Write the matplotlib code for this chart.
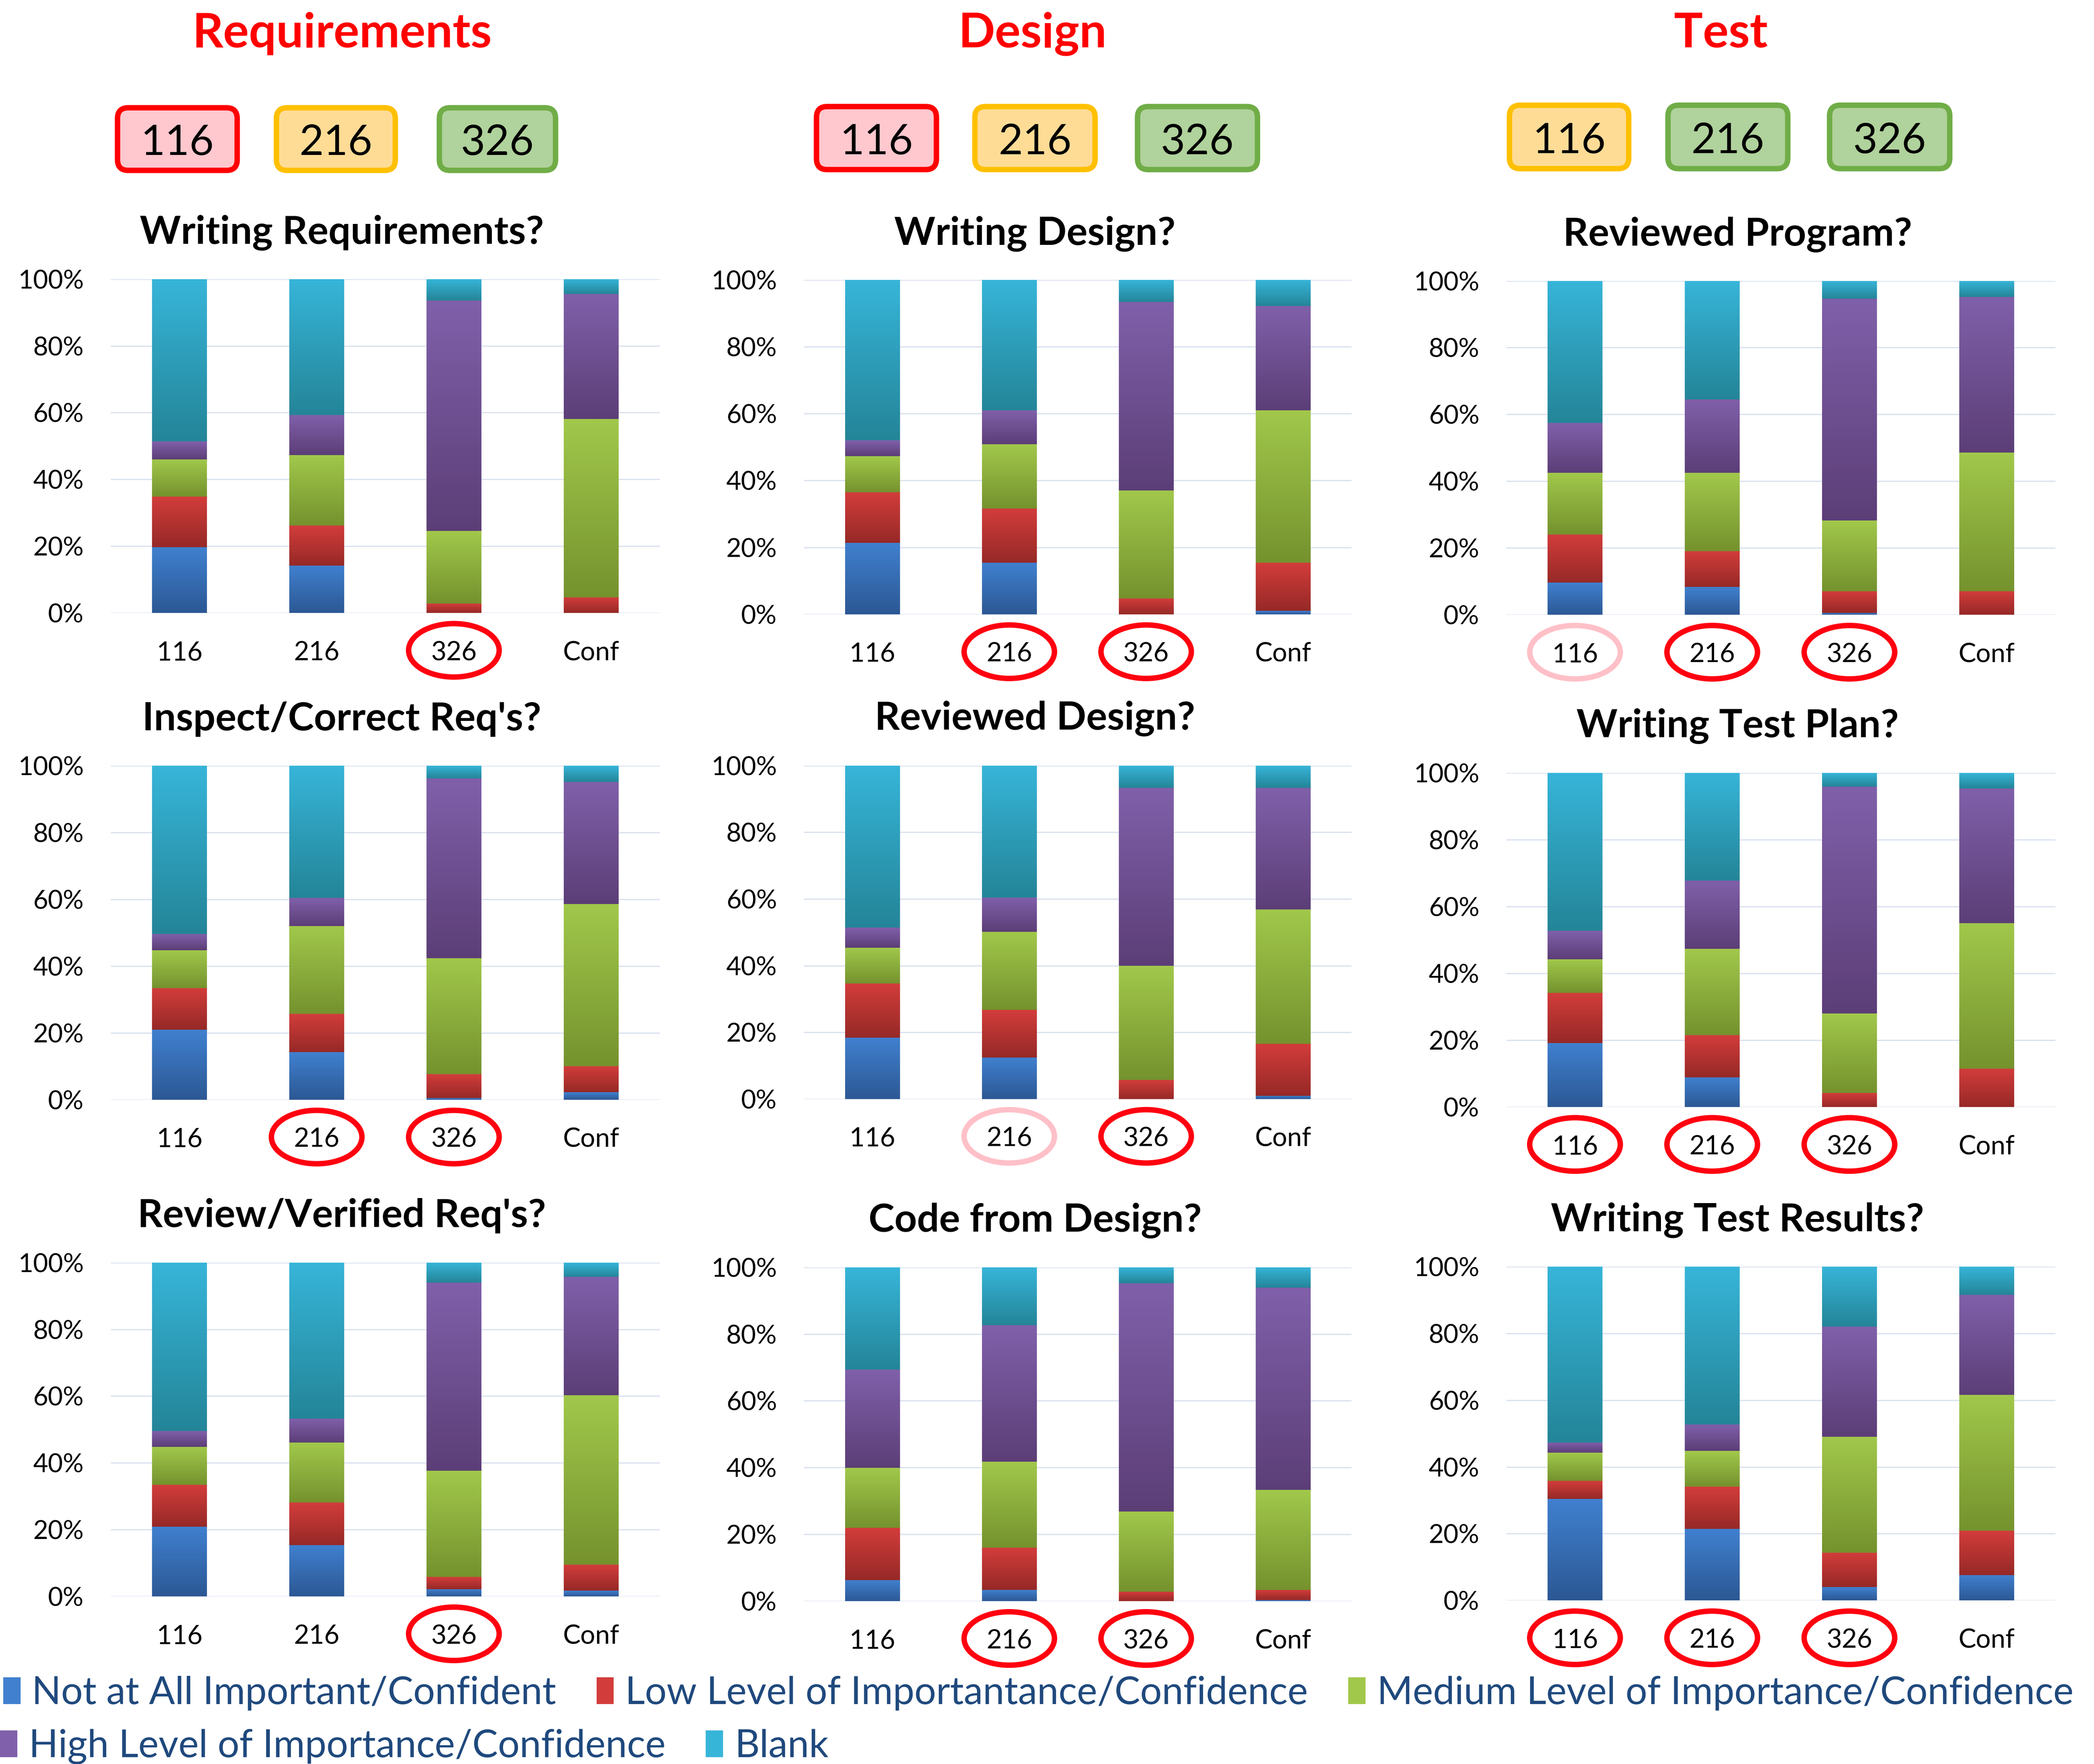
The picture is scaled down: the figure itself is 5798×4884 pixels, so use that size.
import matplotlib.pyplot as plt
import matplotlib.transforms as mtransforms
import numpy as np
from matplotlib.colors import LinearSegmentedColormap
from matplotlib.patches import Ellipse, FancyBboxPatch, Patch

plt.rcParams['font.family'] = ['Lato', 'DejaVu Sans']

categories = ['116', '216', '326', 'Conf']
levels = ['Not at All Important/Confident',
          'Low Level of Importantance/Confidence',
          'Medium Level of Importance/Confidence',
          'High Level of Importance/Confidence',
          'Blank']
y_ticks = [0, 20, 40, 60, 80, 100]

columns = ['Requirements', 'Design', 'Test']
badge_labels = ['116', '216', '326']
badge_styles = [['red', 'yellow', 'green'],
                ['red', 'yellow', 'green'],
                ['yellow', 'green', 'green']]

titles = ['Writing Requirements?', 'Writing Design?', 'Reviewed Program?',
          "Inspect/Correct Req's?", 'Reviewed Design?', 'Writing Test Plan?',
          "Review/Verified Req's?", 'Code from Design?', 'Writing Test Results?']

# % of answers, one row per level (Not at all .. Blank), one column per course
writing_req = [[19.7, 14.2, 0.0, 0.0],
               [15.1, 12.0, 2.8, 4.7],
               [11.2, 21.1, 21.8, 53.4],
               [5.4, 12.0, 69.0, 37.4],
               [48.6, 40.7, 6.4, 4.5]]
writing_design = [[21.4, 15.4, 0.0, 1.0],
                  [15.1, 16.2, 4.7, 14.4],
                  [10.8, 19.2, 32.3, 45.6],
                  [4.7, 10.2, 56.4, 31.2],
                  [48.0, 39.0, 6.6, 7.8]]
reviewed_program = [[9.6, 8.3, 0.6, 0.0],
                    [14.4, 10.8, 6.5, 7.1],
                    [18.5, 23.4, 21.1, 41.5],
                    [14.9, 22.0, 66.4, 46.6],
                    [42.6, 35.5, 5.4, 4.8]]
inspect_req = [[20.9, 14.2, 0.5, 2.2],
               [12.5, 11.5, 7.1, 7.8],
               [11.4, 26.3, 34.8, 48.6],
               [4.8, 8.4, 53.8, 36.6],
               [50.4, 39.6, 3.8, 4.8]]
reviewed_design = [[18.4, 12.4, 0.0, 1.0],
                   [16.2, 14.3, 5.7, 15.5],
                   [10.8, 23.4, 34.3, 40.3],
                   [6.0, 10.3, 53.4, 36.6],
                   [48.6, 39.6, 6.6, 6.6]]
test_plan = [[19.1, 8.9, 0.0, 0.0],
             [15.0, 12.6, 4.2, 11.4],
             [10.1, 25.8, 23.8, 43.6],
             [8.5, 20.4, 67.8, 40.3],
             [47.3, 32.3, 4.2, 4.7]]
review_req = [[20.9, 15.4, 2.2, 1.7],
              [12.5, 12.7, 3.6, 7.8],
              [11.4, 18.0, 31.8, 50.8],
              [4.7, 7.1, 56.4, 35.5],
              [50.5, 46.8, 6.0, 4.2]]
code_design = [[6.3, 3.4, 0.0, 0.3],
               [15.7, 12.6, 2.8, 3.1],
               [17.9, 25.8, 24.0, 29.9],
               [29.4, 40.8, 68.4, 60.6],
               [30.7, 17.4, 4.8, 6.1]]
test_results = [[30.4, 21.4, 4.0, 7.6],
                [5.4, 12.7, 10.3, 13.3],
                [8.5, 10.7, 34.7, 40.7],
                [3.0, 7.9, 33.0, 30.0],
                [52.7, 47.3, 18.0, 8.4]]

all_data = [writing_req, writing_design, reviewed_program,
            inspect_req, reviewed_design, test_plan,
            review_req, code_design, test_results]

# which tick labels got circled by hand
circled = [['', '', 'red', ''], ['', 'red', 'red', ''], ['pink', 'red', 'red', ''],
           ['', 'red', 'red', ''], ['', 'pink', 'red', ''], ['red', 'red', 'red', ''],
           ['', '', 'red', ''], ['', 'red', 'red', ''], ['red', 'red', 'red', '']]

# (top, bottom) colours of the gradient fill
level_colors = [('#4080cf', '#2c5894'),
                ('#d23d3b', '#962927'),
                ('#a1c84b', '#75922e'),
                ('#8060aa', '#5c3e77'),
                ('#37b5d9', '#248598')]
badge_colors = {'red': ('#ffc7ce', '#ff0000'),
                'yellow': ('#ffdc96', '#ffc000'),
                'green': ('#b0d29c', '#70ad47')}
ring_colors = {'red': '#ff0010', 'pink': '#ffc0c8'}

# layout in pixels of a 1568 x 1321 canvas
W, H = 1568, 1321
col_x = [(83, 494), (602, 1012), (1128, 1539)]
row_y = [[(209, 459), (209.6, 460), (210.3, 460.4)],
         [(573.5, 823.5), (573.3, 823), (578.7, 829)],
         [(945.5, 1195.5), (949, 1199), (948.6, 1198.5)]]
title_base = [[182.5, 183.4, 184], [546.8, 546.4, 552], [918.9, 922.4, 922]]
title_x = [256, 775, 1301]
col_title_x = [256, 773, 1288.6]
badge_x = [[(88, 177.6), (207, 296), (329, 416)],
           [(611.4, 701.2), (730, 820), (851.8, 941.6)],
           [(1130.3, 1219.6), (1249, 1338.7), (1370, 1460)]]
badge_y = [(80.7, 127.6), (79.8, 127), (78.8, 126.3)]

grad = np.linspace(0, 1, 256).reshape(-1, 1)


def stacked_gradient(ax, values):
	x = np.arange(len(categories))
	bottom = np.zeros(len(categories))
	for vals, (top, bot) in zip(values, level_colors):
		vals = np.array(vals)
		bars = ax.bar(x, vals, width=0.4, bottom=bottom, color='none', linewidth=0)
		cmap = LinearSegmentedColormap.from_list('g', [bot, top])
		for rect in bars:
			h = rect.get_height()
			if h <= 0:
				continue
			x0, y0, w = rect.get_x(), rect.get_y(), rect.get_width()
			ax.imshow(grad, cmap=cmap, extent=(x0, x0 + w, y0, y0 + h), origin='lower',
					  aspect='auto', zorder=2, interpolation='bilinear')
		bottom += vals
	ax.set_xlim(-0.5, len(categories) - 0.5)
	ax.set_ylim(0, 100)


fig = plt.figure(figsize=(5798 / 300, 4884 / 300), dpi=300)

ov = fig.add_axes([0, 0, 1, 1], zorder=-1)
ov.set_xlim(0, W)
ov.set_ylim(H, 0)
ov.set_axis_off()

for c, name in enumerate(columns):
	ov.text(col_title_x[c], 35.5, name, ha='center', va='baseline', color='#ff0000',
			fontsize=32, fontweight='bold')
	y0, y1 = badge_y[c]
	for (x0, x1), style, lab in zip(badge_x[c], badge_styles[c], badge_labels):
		face, edge = badge_colors[style]
		ov.add_patch(FancyBboxPatch((x0, y0), x1 - x0, y1 - y0,
									boxstyle='round,pad=0,rounding_size=8',
									fc=face, ec=edge, lw=3.6))
		ov.text((x0 + x1) / 2, (y0 + y1) / 2 + 12, lab, ha='center', va='baseline',
				fontsize=28, color='black')

for i, values in enumerate(all_data):
	r, c = divmod(i, 3)
	x0, x1 = col_x[c]
	yt, yb = row_y[r][c]
	ax = fig.add_axes([x0 / W, 1 - yb / H, (x1 - x0) / W, (yb - yt) / H])
	stacked_gradient(ax, values)

	ax.set_yticks(y_ticks)
	ax.set_yticklabels([f'{t}%' for t in y_ticks])
	ax.set_xticks(range(len(categories)))
	ax.set_xticklabels(categories)
	ax.tick_params(axis='y', length=0, pad=18, labelsize=17.2)
	ax.tick_params(axis='x', length=0, pad=18.5, labelsize=17.5)
	ax.yaxis.grid(True, color='#d9e1ee', lw=0.8)
	ax.set_axisbelow(True)
	for s in ax.spines.values():
		s.set_visible(False)

	trans = mtransforms.blended_transform_factory(ax.transData, ax.transAxes)
	for k, ring in enumerate(circled[i]):
		if ring:
			ax.add_patch(Ellipse((k, -0.112), 0.66, 0.16, transform=trans, clip_on=False,
								 fill=False, ec=ring_colors[ring], lw=3.6))

	ov.text(title_x[c], title_base[r][c], titles[i], ha='center', va='baseline',
			fontsize=26, fontweight='bold')

handles = [Patch(facecolor=top, edgecolor='none') for top, bot in level_colors]
leg_kw = dict(frameon=False, fontsize=25.5, labelcolor='#1f497d', handlelength=0.45,
			  handleheight=0.7, handletextpad=0.3, columnspacing=1.05,
			  borderpad=0, borderaxespad=0, loc='center left')
fig.legend(handles[:3], levels[:3], ncol=3, bbox_to_anchor=(0.0015, 1 - 1268 / H), **leg_kw)
fig.legend(handles[3:], levels[3:], ncol=2, bbox_to_anchor=(0.0, 1 - 1308 / H), **leg_kw)

fig.savefig('out.png', dpi=300)
